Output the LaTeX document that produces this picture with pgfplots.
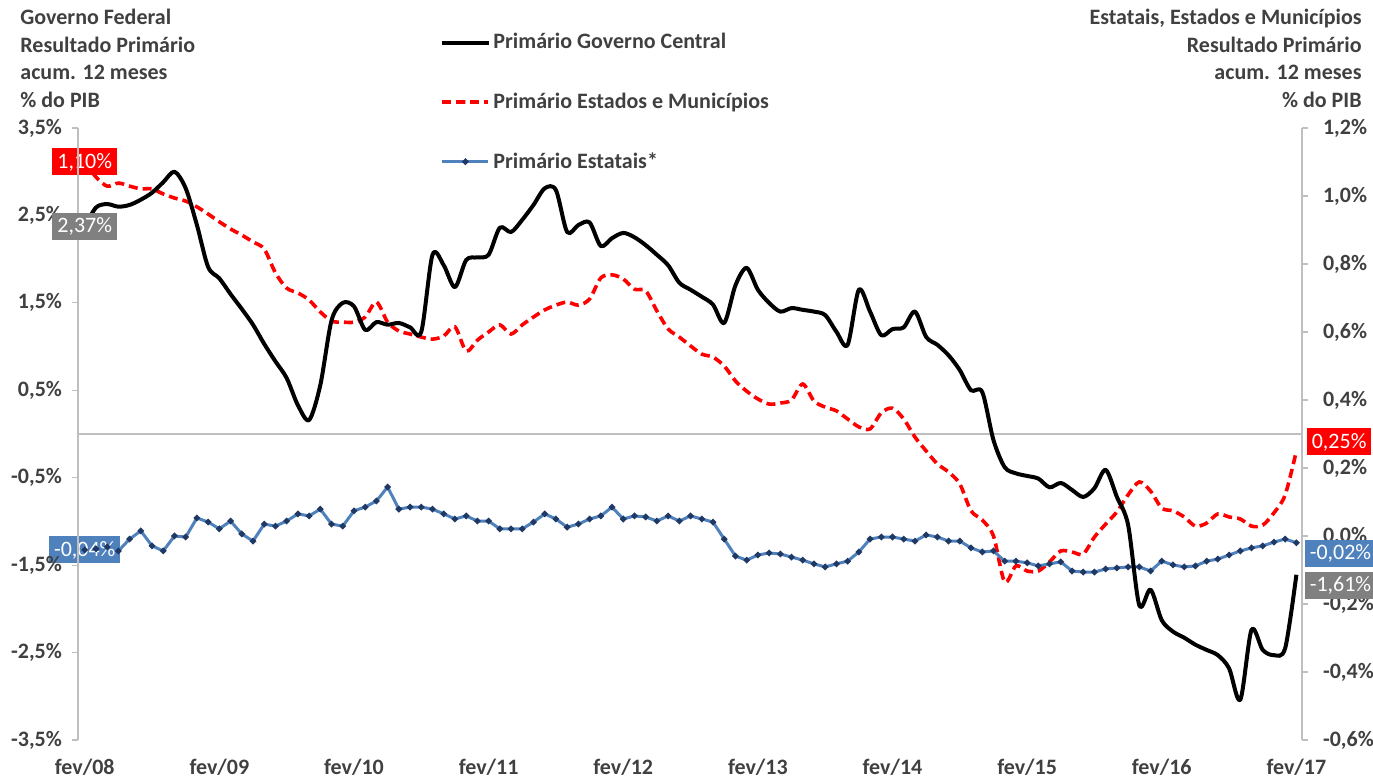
\documentclass[border=0pt]{standalone}
\usepackage{fontspec}
\setmainfont{Carlito}
\usepackage{pgfplots}
\usepackage{pgfplotstable}
\pgfplotsset{compat=1.18}
\definecolor{txt}{RGB}{64,64,64}
\definecolor{axgray}{RGB}{191,191,191}
\definecolor{redl}{RGB}{255,0,0}
\definecolor{bluel}{RGB}{79,129,189}
\definecolor{navy}{RGB}{31,56,100}
\definecolor{grayl}{RGB}{128,128,128}

\pgfplotstableread{
i gc em est
0 2.37 1.100 -0.041
1 2.59 1.056 -0.038
2 2.63 1.029 -0.032
3 2.60 1.038 -0.044
4 2.62 1.029 -0.009
5 2.68 1.021 0.015
6 2.76 1.021 -0.029
7 2.88 1.006 -0.044
8 3.00 0.994 0.000
9 2.81 0.985 -0.003
10 2.39 0.968 0.053
11 1.91 0.947 0.041
12 1.78 0.924 0.021
13 1.60 0.903 0.044
14 1.43 0.885 0.006
15 1.25 0.865 -0.015
16 1.03 0.844 0.035
17 0.83 0.774 0.029
18 0.64 0.729 0.044
19 0.33 0.715 0.065
20 0.16 0.694 0.059
21 0.56 0.659 0.079
22 1.30 0.632 0.035
23 1.50 0.629 0.029
24 1.46 0.629 0.074
25 1.19 0.644 0.085
26 1.28 0.688 0.103
27 1.25 0.629 0.144
28 1.27 0.603 0.079
29 1.22 0.594 0.085
30 1.17 0.585 0.085
31 2.05 0.579 0.079
32 1.93 0.588 0.065
33 1.68 0.615 0.050
34 1.99 0.544 0.059
35 2.02 0.576 0.044
36 2.05 0.600 0.044
37 2.36 0.621 0.021
38 2.31 0.594 0.021
39 2.45 0.621 0.021
40 2.62 0.644 0.041
41 2.81 0.665 0.065
42 2.79 0.679 0.050
43 2.31 0.688 0.026
44 2.39 0.679 0.035
45 2.42 0.697 0.050
46 2.15 0.759 0.059
47 2.24 0.768 0.085
48 2.30 0.756 0.050
49 2.25 0.726 0.059
50 2.16 0.721 0.056
51 2.05 0.662 0.044
52 1.93 0.609 0.059
53 1.73 0.585 0.044
54 1.65 0.559 0.059
55 1.57 0.535 0.050
56 1.48 0.526 0.041
57 1.27 0.500 -0.009
58 1.70 0.456 -0.059
59 1.90 0.426 -0.071
60 1.65 0.403 -0.056
61 1.50 0.388 -0.050
62 1.40 0.391 -0.053
63 1.44 0.400 -0.062
64 1.42 0.447 -0.071
65 1.40 0.397 -0.082
66 1.36 0.379 -0.091
67 1.17 0.368 -0.082
68 1.02 0.344 -0.074
69 1.65 0.321 -0.047
70 1.40 0.315 -0.009
71 1.13 0.362 -0.003
72 1.20 0.376 -0.003
73 1.22 0.344 -0.009
74 1.40 0.291 -0.015
75 1.11 0.250 0.003
76 1.02 0.212 -0.003
77 0.90 0.188 -0.015
78 0.73 0.153 -0.015
79 0.50 0.074 -0.035
80 0.48 0.047 -0.047
81 -0.07 0.000 -0.044
82 -0.38 -0.135 -0.074
83 -0.45 -0.088 -0.074
84 -0.48 -0.103 -0.079
85 -0.51 -0.103 -0.088
86 -0.61 -0.076 -0.082
87 -0.56 -0.044 -0.076
88 -0.64 -0.047 -0.103
89 -0.72 -0.053 -0.106
90 -0.62 -0.003 -0.106
91 -0.41 0.035 -0.097
92 -0.72 0.071 -0.094
93 -1.04 0.121 -0.091
94 -1.96 0.159 -0.091
95 -1.78 0.132 -0.103
96 -2.13 0.082 -0.074
97 -2.26 0.074 -0.085
98 -2.33 0.056 -0.091
99 -2.41 0.029 -0.088
100 -2.47 0.038 -0.074
101 -2.53 0.065 -0.068
102 -2.68 0.056 -0.056
103 -3.04 0.050 -0.044
104 -2.24 0.029 -0.035
105 -2.47 0.032 -0.029
106 -2.53 0.068 -0.018
107 -2.45 0.121 -0.009
108 -1.61 0.250 -0.020
}\data

\pgfplotsset{
  common/.style={
    scale only axis, width=612pt, height=306pt, at={(0,0)}, anchor=south west,
    xmin=-0.6, xmax=108.5, clip=false,
    tick align=outside, major tick length=3pt,
    ytick style={axgray, line width=0.6pt},
    y axis line style={axgray, line width=0.8pt},
    tick label style={text=txt, font=\fontsize{11}{13}\selectfont\bfseries},
  },
}
\tikzset{
  lab/.style={text=white, font=\fontsize{11}{13}\selectfont, inner xsep=2.5pt, inner ysep=0pt, minimum height=13.5pt},
}

\begin{document}
\begin{tikzpicture}
\begin{axis}[common,
  ymin=-0.6, ymax=1.2,
  axis x line=none, axis y line*=right,
  ytick={-0.6,-0.4,-0.2,0,0.2,0.4,0.6,0.8,1.0,1.2},
  yticklabels={{-0,6\%},{-0,4\%},{-0,2\%},{0,0\%},{0,2\%},{0,4\%},{0,6\%},{0,8\%},{1,0\%},{1,2\%}},
  yticklabel style={xshift=4pt},
  extra y ticks={0.3}, extra y tick labels={},
  extra y tick style={grid=major, major grid style={axgray, line width=0.8pt}, major tick length=0pt},
]
\addplot[redl, line width=1.8pt, dash pattern=on 4.5pt off 2.5pt, smooth] table[x=i,y=em]{\data};
\addplot[bluel, line width=1.5pt, mark=*, mark size=0.7pt, mark options={navy, fill=navy, solid}] table[x=i,y=est]{\data};
\node[lab, fill=redl] at (axis cs:0,1.10) {1,10\%};
\node[lab, fill=bluel] at (axis cs:0,-0.041) {-0,04\%};
\node[lab, fill=redl, anchor=west, xshift=5pt, yshift=4.5pt] at (axis cs:108,0.25) {0,25\%};
\node[lab, fill=bluel, anchor=west, xshift=4pt, yshift=-5.5pt] at (axis cs:108,-0.02) {-0,02\%};
\end{axis}

\begin{axis}[common,
  ymin=-3.5, ymax=3.5,
  axis x line*=bottom, axis y line*=left,
  x axis line style={draw=none},
  xtick={0,12,24,36,48,60,72,84,96,108},
  xticklabels={fev/08,fev/09,fev/10,fev/11,fev/12,fev/13,fev/14,fev/15,fev/16,fev/17},
  xtick style={draw=none},
  xticklabel style={yshift=-3pt},
  ytick={-3.5,-2.5,-1.5,-0.5,0.5,1.5,2.5,3.5},
  yticklabels={{-3,5\%},{-2,5\%},{-1,5\%},{-0,5\%},{0,5\%},{1,5\%},{2,5\%},{3,5\%}},
  yticklabel style={xshift=-1.5pt},
  legend style={at={(axis description cs:0.2958,1.160)}, anchor=north west, draw=none, fill=none,
    row sep=17.5pt, font=\fontsize{11}{13}\selectfont\bfseries, text=txt, inner sep=0pt,
    nodes={inner sep=1.5pt}},
  legend cell align=left,
  legend image code/.code={\draw[mark repeat=2,mark phase=2,#1] plot coordinates {(0pt,0pt) (11.5pt,0pt) (23pt,0pt)};},
]
\addplot[black, line width=2pt, smooth, line join=round] table[x=i,y=gc]{\data};
\addlegendentry{Primário Governo Central}
\addlegendimage{redl, line width=1.8pt, dash pattern=on 4.5pt off 2.5pt}
\addlegendentry{Primário Estados e Municípios}
\addlegendimage{bluel, line width=1.5pt, mark=*, mark size=0.7pt, mark options={navy, fill=navy, solid}}
\addlegendentry{Primário Estatais*}
\node[lab, fill=grayl] at (axis cs:0,2.37) {2,37\%};
\node[lab, fill=grayl, anchor=west, xshift=4pt, yshift=-5.5pt] at (axis cs:108,-1.61) {-1,61\%};
\node[anchor=north west, xshift=-29pt, yshift=59.5pt, align=left, text=txt, inner sep=0pt,
  font=\fontsize{11}{13.7}\selectfont\bfseries] at (rel axis cs:0,1)
  {Governo Federal\\Resultado Primário\\acum. 12 meses\\\% do PIB};
\node[anchor=north east, xshift=30pt, yshift=59.5pt, align=right, text=txt, inner sep=0pt,
  font=\fontsize{11}{13.7}\selectfont\bfseries] at (rel axis cs:1,1)
  {Estatais, Estados e Municípios\\Resultado Primário\\acum. 12 meses\\\% do PIB};
\end{axis}
\pgfresetboundingbox
\useasboundingbox (-39pt,-20.5pt) rectangle (647.5pt,370pt);
\end{tikzpicture}
\end{document}
